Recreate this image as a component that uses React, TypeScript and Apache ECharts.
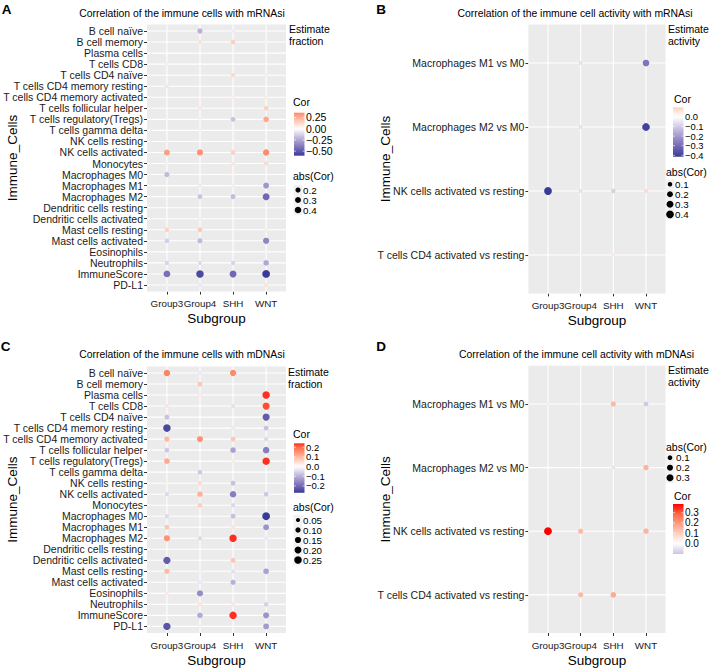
import React, { useEffect, useRef } from "react";
import * as echarts from "echarts";

// ---------------- DATA ----------------
const subgroups = ["Group3", "Group4", "SHH", "WNT"];

const fractionCells = [
  "B cell naïve",
  "B cell memory",
  "Plasma cells",
  "T cells CD8",
  "T cells CD4 naïve",
  "T cells CD4 memory resting",
  "T cells CD4 memory activated",
  "T cells follicular helper",
  "T cells regulatory(Tregs)",
  "T cells gamma delta",
  "NK cells resting",
  "NK cells activated",
  "Monocytes",
  "Macrophages M0",
  "Macrophages M1",
  "Macrophages M2",
  "Dendritic cells resting",
  "Dendritic cells activated",
  "Mast cells resting",
  "Mast cells activated",
  "Eosinophils",
  "Neutrophils",
  "ImmuneScore",
  "PD-L1",
];

const activityCells = [
  "Macrophages M1 vs M0",
  "Macrophages M2 vs M0",
  "NK cells activated vs resting",
  "T cells CD4 activated vs resting",
];

// Panel A: immune cell fraction vs mRNAsi (rows = cells, cols = Group3, Group4, SHH, WNT)
const corA = [
  [0.02, -0.22, -0.06, 0.02],
  [0.01, 0.1, 0.15, 0.04],
  [0.01, 0.02, -0.01, 0.01],
  [0.06, 0.03, 0.01, 0.02],
  [0.0, 0.02, 0.12, -0.05],
  [-0.07, 0.01, 0.01, 0.0],
  [0.01, 0.03, 0.06, 0.07],
  [0.0, 0.08, 0.01, 0.15],
  [0.03, 0.05, -0.17, 0.27],
  [0.01, 0.05, 0.0, 0.01],
  [0.04, 0.01, 0.0, 0.02],
  [0.3, 0.33, 0.15, 0.355],
  [-0.04, 0.02, 0.08, 0.12],
  [-0.2, 0.01, 0.03, 0.02],
  [0.0, -0.06, -0.05, -0.3],
  [0.0, -0.17, -0.19, -0.45],
  [0.01, 0.01, 0.0, 0.01],
  [0.03, 0.06, 0.0, 0.01],
  [0.14, 0.17, 0.0, 0.06],
  [-0.14, -0.2, 0.0, -0.35],
  [0.01, 0.0, 0.0, 0.03],
  [-0.12, -0.1, -0.12, -0.25],
  [-0.42, -0.55, -0.45, -0.6],
  [0.05, -0.07, 0.01, 0.09],
];

// Panel B: immune cell activity vs mRNAsi
const corB = [
  [0.0, -0.06, 0.0, -0.28],
  [0.0, -0.06, 0.0, -0.4],
  [-0.415, -0.06, -0.09, 0.08],
  [0.0, 0.03, 0.05, 0.0],
];

// Panel C: immune cell fraction vs mDNAsi
const corC = [
  [0.17, -0.03, 0.16, 0.01],
  [0.0, 0.08, 0.0, 0.0],
  [0.0, 0.03, 0.0, 0.24],
  [0.04, 0.0, -0.04, 0.22],
  [-0.08, 0.0, 0.0, -0.22],
  [-0.25, 0.0, -0.03, -0.08],
  [0.1, 0.15, 0.08, -0.05],
  [-0.07, 0.0, -0.12, -0.17],
  [0.12, 0.0, 0.03, 0.24],
  [0.0, -0.07, 0.0, 0.0],
  [0.02, 0.05, -0.08, 0.0],
  [-0.05, 0.11, -0.17, -0.07],
  [0.01, 0.07, -0.05, 0.0],
  [-0.05, 0.0, -0.08, -0.27],
  [0.08, 0.0, 0.04, -0.14],
  [0.15, -0.05, 0.24, -0.03],
  [0.0, 0.0, 0.0, 0.0],
  [-0.22, 0.0, 0.08, 0.0],
  [0.1, -0.02, -0.04, -0.12],
  [0.0, -0.03, -0.1, 0.0],
  [0.03, -0.15, 0.0, 0.0],
  [0.0, 0.04, 0.04, -0.06],
  [0.0, -0.11, 0.24, -0.14],
  [-0.23, -0.02, 0.0, -0.13],
];

// Panel D: immune cell activity vs mDNAsi
const corD = [
  [0.04, 0.0, 0.14, -0.1],
  [0.01, 0.0, -0.05, 0.15],
  [0.385, 0.14, 0.0, 0.15],
  [0.0, 0.14, 0.17, 0.0],
];

// colour-bar limits [min, max] and tick labels
const limitsA = [-0.6, 0.355];
const limitsB = [-0.415, 0.1];
const limitsC = [-0.27, 0.24];
const limitsD = [-0.105, 0.385];
const ticksA = [0.25, 0.0, -0.25, -0.5];
const ticksB = [0.0, -0.1, -0.2, -0.3, -0.4];
const ticksC = [0.2, 0.1, 0.0, -0.1, -0.2];
const ticksD = [0.3, 0.2, 0.1, 0.0];
// size legend breaks (abs(Cor))
const sizeBreaksA = [0.2, 0.3, 0.4];
const sizeBreaksB = [0.1, 0.2, 0.3, 0.4];
const sizeBreaksC = [0.05, 0.1, 0.15, 0.2, 0.25];
const sizeBreaksD = [0.1, 0.2, 0.3];

// ---------------- STYLE / LAYOUT ----------------
const FONT = "'Liberation Sans', Arial, Helvetica, sans-serif";
const NEG_STOPS = ["#FFFFFF", "#D1C9E6", "#A096CC", "#7167B2", "#3A3A98"];
const POS_STOPS = ["#FFFFFF", "#FFCFBF", "#FF9D82", "#FF6845", "#FF0000"];
const D_MIN = 1.4;
const D_MAX = 7.8;
const Y_AXIS_FS = 10.5;
const X_AXIS_FS = 9.8;
const LEG_FS = 10.5;
const KEY_FS = 9.8;

function hexToRgb(h: string) {
  const n = parseInt(h.slice(1), 16);
  return [(n >> 16) & 255, (n >> 8) & 255, n & 255];
}
function colorFor(v: number, M: number) {
  const t = Math.min(1, Math.abs(v) / M);
  const stops = v < 0 ? NEG_STOPS : POS_STOPS;
  const f = t * (stops.length - 1);
  const i = Math.min(stops.length - 2, Math.floor(f));
  const u = f - i;
  const a = hexToRgb(stops[i]);
  const b = hexToRgb(stops[i + 1]);
  const c = a.map((x, k) => Math.round(x + (b[k] - x) * u));
  return `rgb(${c[0]},${c[1]},${c[2]})`;
}
function sizeFor(a: number, amax: number) {
  return D_MIN + (D_MAX - D_MIN) * Math.sqrt(Math.min(1, Math.abs(a) / amax));
}
function fmt(v: number, d: number) {
  const s = Math.abs(v).toFixed(d);
  return v < -1e-9 ? "\u2212" + s : s;
}

type Panel = {
  letter: string;
  title: string;
  est: string[];
  cells: string[];
  cor: number[][];
  limits: number[];
  ticks: number[];
  tickDigits: number;
  tickFs: number;
  sizeBreaks: number[];
  sizeDigits: number;
  box: number[];
  titlePos: number[];
  letterPos: number[];
  estPos: number[];
  corTitle: number[];
  barX: number;
  barTop: number;
  ppu: number;
  labelX: number;
  absTitle: number[];
  keyYs: number[];
  dotX: number;
  keyLabelX: number;
  yNameGap: number;
};

const panels: Panel[] = [
  {
    letter: "A",
    title: "Correlation of the immune cells with mRNAsi",
    est: ["Estimate", "fraction"],
    cells: fractionCells,
    cor: corA,
    limits: limitsA,
    ticks: ticksA,
    tickDigits: 2,
    tickFs: 10.5,
    sizeBreaks: sizeBreaksA,
    sizeDigits: 1,
    box: [146, 24.4, 286, 291.6],
    titlePos: [182, 13.3],
    letterPos: [6.5, 9.5],
    estPos: [289, 29],
    corTitle: [293, 102],
    barX: 294,
    barTop: 112.7,
    ppu: 45,
    labelX: 306,
    absTitle: [293, 176],
    keyYs: [190, 200, 210],
    dotX: 298,
    keyLabelX: 303,
    yNameGap: 128,
  },
  {
    letter: "B",
    title: "Correlation of the immune cell activity with mRNAsi",
    est: ["Estimate", "activity"],
    cells: activityCells,
    cor: corB,
    limits: limitsB,
    ticks: ticksB,
    tickDigits: 1,
    tickFs: 9.4,
    sizeBreaks: sizeBreaksB,
    sizeDigits: 1,
    box: [528.4, 24.6, 665.6, 293.4],
    titlePos: [575, 13.3],
    letterPos: [381, 9.5],
    estPos: [668, 29],
    corTitle: [674, 99],
    barX: 673,
    barTop: 107.3,
    ppu: 96,
    labelX: 685,
    absTitle: [666, 172],
    keyYs: [184.3, 194.3, 204.3, 214.3],
    dotX: 670,
    keyLabelX: 675,
    yNameGap: 136,
  },
  {
    letter: "C",
    title: "Correlation of the immune cells with mDNAsi",
    est: ["Estimate", "fraction"],
    cells: fractionCells,
    cor: corC,
    limits: limitsC,
    ticks: ticksC,
    tickDigits: 1,
    tickFs: 9.5,
    sizeBreaks: sizeBreaksC,
    sizeDigits: 2,
    box: [146, 366.4, 286, 633.6],
    titlePos: [182, 354.3],
    letterPos: [5.5, 346],
    estPos: [288, 372.3],
    corTitle: [293, 434.3],
    barX: 294,
    barTop: 443.3,
    ppu: 97,
    labelX: 306,
    absTitle: [293, 506.7],
    keyYs: [520, 530, 540, 550, 560],
    dotX: 298,
    keyLabelX: 303,
    yNameGap: 128,
  },
  {
    letter: "D",
    title: "Correlation of the immune cell activity with mDNAsi",
    est: ["Estimate", "activity"],
    cells: activityCells,
    cor: corD,
    limits: limitsD,
    ticks: ticksD,
    tickDigits: 1,
    tickFs: 10,
    sizeBreaks: sizeBreaksD,
    sizeDigits: 1,
    box: [528.4, 365.8, 665.6, 633.2],
    titlePos: [576.5, 354.3],
    letterPos: [381, 346],
    estPos: [668, 370],
    corTitle: [674, 495.7],
    barX: 673,
    barTop: 504,
    ppu: 102,
    labelX: 685,
    absTitle: [666, 447.3],
    keyYs: [457.7, 467.7, 477.7],
    dotX: 670,
    keyLabelX: 676,
    yNameGap: 136,
  },
];

function txt(text: string, x: number, y: number, size: number, opts: any = {}) {
  const align = opts.align || "left";
  return {
    type: "text",
    x,
    y,
    silent: true,
    style: {
      text,
      fontSize: size,
      fontFamily: FONT,
      fontWeight: opts.bold ? "bold" : "normal",
      fill: opts.color || "#000",
      align,
      textAlign: align,
      verticalAlign: "middle",
      textVerticalAlign: "middle",
    },
  };
}

function buildOption() {
  const grids: any[] = [];
  const xAxes: any[] = [];
  const yAxes: any[] = [];
  const series: any[] = [];
  const graphics: any[] = [];

  panels.forEach((p, k) => {
    const nx = subgroups.length;
    const ny = p.cells.length;
    const [x0, y0, x1, y1] = p.box;
    const bandX = (x1 - x0) / (nx + 0.2);
    const bandY = (y1 - y0) / (ny + 0.2);
    grids.push({
      left: x0 + 0.1 * bandX,
      top: y0 + 0.1 * bandY,
      width: nx * bandX,
      height: ny * bandY,
      containLabel: false,
    });
    xAxes.push({
      type: "category",
      gridIndex: k,
      data: subgroups,
      position: "bottom",
      offset: 0.1 * bandY,
      axisLine: { show: false },
      axisTick: { show: true, alignWithLabel: true, interval: 0, length: 3, lineStyle: { color: "#333", width: 1 } },
      axisLabel: { interval: 0, fontSize: X_AXIS_FS, fontFamily: FONT, color: "#1a1a1a", margin: 7 },
      splitLine: { show: false },
      name: "Subgroup",
      nameLocation: "middle",
      nameGap: 20,
      nameMoveOverlap: false,
      nameTextStyle: { fontSize: 13.5, fontFamily: FONT, color: "#000" },
    });
    yAxes.push({
      type: "category",
      gridIndex: k,
      data: p.cells,
      inverse: true,
      position: "left",
      offset: 0.1 * bandX,
      axisLine: { show: false },
      axisTick: { show: true, alignWithLabel: true, interval: 0, length: 3, lineStyle: { color: "#333", width: 1 } },
      axisLabel: { interval: 0, fontSize: Y_AXIS_FS, fontFamily: FONT, color: "#1a1a1a", margin: 4 },
      splitLine: { show: false },
      name: "Immune_Cells",
      nameLocation: "middle",
      nameGap: p.yNameGap,
      nameMoveOverlap: false,
      nameTextStyle: { fontSize: 13.5, fontFamily: FONT, color: "#000" },
    });

    // panel background + white major grid lines at category positions
    series.push({
      type: "custom",
      xAxisIndex: k,
      yAxisIndex: k,
      silent: true,
      clip: false,
      z: 1,
      data: [[0, 0]],
      renderItem: (params: any, api: any) => {
        const cs = params.coordSys;
        const ex = (cs.width / nx) * 0.1;
        const ey = (cs.height / ny) * 0.1;
        const left = cs.x - ex;
        const right = cs.x + cs.width + ex;
        const top = cs.y - ey;
        const bottom = cs.y + cs.height + ey;
        const children: any[] = [
          { type: "rect", shape: { x: left, y: top, width: right - left, height: bottom - top }, style: { fill: "#EBEBEB" } },
        ];
        for (let i = 0; i < nx; i++) {
          const px = api.coord([i, 0])[0];
          children.push({ type: "line", shape: { x1: px, y1: top, x2: px, y2: bottom }, style: { stroke: "#FFFFFF", lineWidth: 1.1 } });
        }
        for (let j = 0; j < ny; j++) {
          const py = api.coord([0, j])[1];
          children.push({ type: "line", shape: { x1: left, y1: py, x2: right, y2: py }, style: { stroke: "#FFFFFF", lineWidth: 1.1 } });
        }
        return { type: "group", children };
      },
    });

    const M = Math.max(Math.abs(p.limits[0]), Math.abs(p.limits[1]));
    let amax = 0;
    p.cor.forEach((row) => row.forEach((v) => (amax = Math.max(amax, Math.abs(v)))));
    const data: any[] = [];
    p.cor.forEach((row, j) => row.forEach((v, i) => data.push([i, j, v])));
    series.push({
      type: "scatter",
      xAxisIndex: k,
      yAxisIndex: k,
      z: 3,
      data,
      encode: { x: 0, y: 1 },
      symbol: "circle",
      symbolSize: (val: any) => sizeFor(val[2], amax),
      itemStyle: { color: (params: any) => colorFor(params.value[2], M), opacity: 1, borderWidth: 0 },
      emphasis: { disabled: true },
      silent: true,
    });

    // ---- texts and legends ----
    graphics.push(txt(p.letter, p.letterPos[0], p.letterPos[1], 13.5, { bold: true, align: "center" }));
    graphics.push(txt(p.title, p.titlePos[0], p.titlePos[1], 10.4, { align: "center" }));
    graphics.push(txt(p.est[0], p.estPos[0], p.estPos[1], LEG_FS));
    graphics.push(txt(p.est[1], p.estPos[0], p.estPos[1] + 11.5, LEG_FS));

    // colour bar
    graphics.push(txt("Cor", p.corTitle[0], p.corTitle[1], LEG_FS));
    const [mn, mx] = p.limits;
    const barH = (mx - mn) * p.ppu;
    const stops: any[] = [];
    const NS = 24;
    for (let s = 0; s <= NS; s++) {
      const v = mx - ((mx - mn) * s) / NS;
      stops.push({ offset: s / NS, color: colorFor(v, M) });
    }
    graphics.push({
      type: "rect",
      silent: true,
      shape: { x: p.barX, y: p.barTop, width: 10.5, height: barH },
      style: { fill: new echarts.graphic.LinearGradient(0, 0, 0, 1, stops) },
    });
    p.ticks.forEach((t) => {
      const ty = p.barTop + (mx - t) * p.ppu;
      graphics.push({ type: "line", silent: true, shape: { x1: p.barX, y1: ty, x2: p.barX + 2, y2: ty }, style: { stroke: "#fff", lineWidth: 0.6 } });
      graphics.push({ type: "line", silent: true, shape: { x1: p.barX + 8.5, y1: ty, x2: p.barX + 10.5, y2: ty }, style: { stroke: "#fff", lineWidth: 0.6 } });
      graphics.push(txt(fmt(t, p.tickDigits), p.labelX, ty, p.tickFs));
    });

    // size legend
    graphics.push(txt("abs(Cor)", p.absTitle[0], p.absTitle[1], LEG_FS));
    p.sizeBreaks.forEach((b, i) => {
      const ky = p.keyYs[i];
      graphics.push({ type: "rect", silent: true, shape: { x: p.dotX - 4.5, y: ky - 5, width: 9, height: 10 }, style: { fill: "#F2F2F2" } });
      graphics.push({ type: "circle", silent: true, shape: { cx: p.dotX, cy: ky, r: sizeFor(b, amax) / 2 }, style: { fill: "#000" } });
      graphics.push(txt(b.toFixed(p.sizeDigits), p.keyLabelX, ky, KEY_FS));
    });
  });

  return {
    animation: false,
    backgroundColor: "#ffffff",
    grid: grids,
    xAxis: xAxes,
    yAxis: yAxes,
    series,
    graphic: { elements: graphics },
  };
}

export default function App() {
  const ref = useRef<HTMLDivElement>(null);
  useEffect(() => {
    if (!ref.current) return;
    const chart = echarts.init(ref.current, undefined, { renderer: "svg" });
    chart.setOption(buildOption() as any);
    return () => chart.dispose();
  }, []);
  return <div ref={ref} style={{ position: "fixed", left: 0, top: 0, width: 709, height: 668 }} />;
}
